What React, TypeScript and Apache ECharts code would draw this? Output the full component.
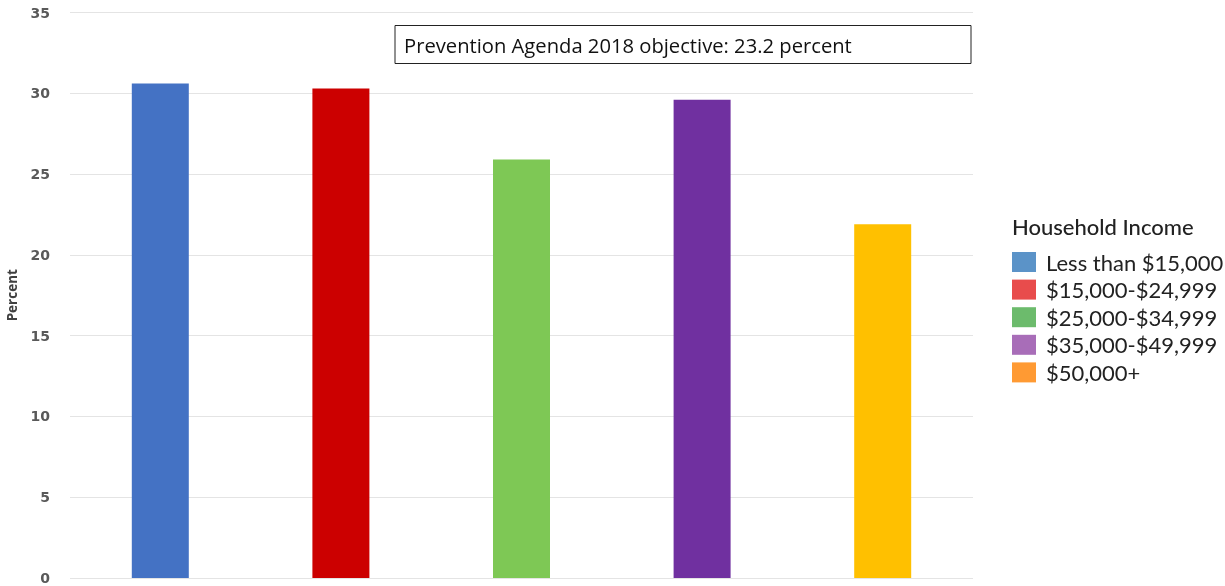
import React, { useEffect, useRef } from "react";
import * as echarts from "echarts";

const categories = ["Less than $15,000", "$15,000-$24,999", "$25,000-$34,999", "$35,000-$49,999", "$50,000+"];
const values = [30.6, 30.3, 25.9, 29.6, 21.9];
const barColors = ["#4472c4", "#cc0000", "#7ec855", "#7030a0", "#ffc000"];
const legendColors = ["#5b93c8", "#e84c4c", "#6cbb6c", "#a86db8", "#ff9a33"];
const yTicks = { min: 0, max: 35, interval: 5 };
const objectiveText = "Prevention Agenda 2018 objective: 23.2 percent";
const legendTitle = "Household Income";

export default function App() {
  const ref = useRef<HTMLDivElement>(null);
  useEffect(() => {
    if (!ref.current) return;
    const chart = echarts.init(ref.current, null, { renderer: "svg" });
    const series = categories.map((name, i) => ({
      name,
      type: "bar",
      barWidth: 57,
      barGap: "-100%",
      itemStyle: { color: barColors[i] },
      data: values.map((v, j) => (j === i ? v : "-")),
    }));
    chart.setOption({
      animation: false,
      grid: { left: 70, right: 252, top: 12.5, bottom: 8, outerBoundsMode: "none", containLabel: false },
      title: {
        text: legendTitle,
        left: 1007,
        top: 210,
        textStyle: { fontFamily: "Lato", fontSize: 22, fontWeight: 500, color: "#222" },
      },
      legend: {
        orient: "vertical",
        left: 1007,
        top: 246,
        itemWidth: 24,
        itemHeight: 20,
        itemGap: 5.6,
        selectedMode: false,
        icon: "rect",
        textStyle: { fontFamily: "Lato", fontSize: 22, lineHeight: 20, color: "#222", padding: [0, 0, 0, 5] },
        data: categories.map((name, i) => ({ name, itemStyle: { color: legendColors[i] } })),
      },
      xAxis: {
        type: "category",
        data: categories,
        axisLabel: { show: false },
        axisLine: { show: false },
        axisTick: { show: false },
      },
      yAxis: {
        type: "value",
        min: yTicks.min,
        max: yTicks.max,
        interval: yTicks.interval,
        name: "Percent",
        nameLocation: "middle",
        nameGap: 51,
        nameTextStyle: { fontFamily: "Open Sans", fontSize: 13.5, fontWeight: "bold", color: "#404040" },
        axisLabel: { fontFamily: "DejaVu Sans", fontSize: 14, fontWeight: "bold", color: "#595959", margin: 20 },
        axisLine: { show: false },
        axisTick: { show: false },
        splitLine: { lineStyle: { color: "#e4e4e4", width: 1 } },
      },
      graphic: [
        {
          type: "group",
          left: 394.5,
          top: 25,
          children: [
            {
              type: "rect",
              shape: { x: 0, y: 0, width: 576, height: 38 },
              style: { fill: "#fff", stroke: "#222", lineWidth: 1 },
            },
            {
              type: "text",
              x: 9,
              y: 19,
              style: {
                text: objectiveText,
                fontFamily: "Open Sans",
                fontSize: 20.2,
                fill: "#111",
                verticalAlign: "middle",
              },
            },
          ],
        },
      ],
      series,
    });
    return () => chart.dispose();
  }, []);
  return <div ref={ref} style={{ position: "fixed", left: 0, top: 0, width: 1225, height: 586 }} />;
}
